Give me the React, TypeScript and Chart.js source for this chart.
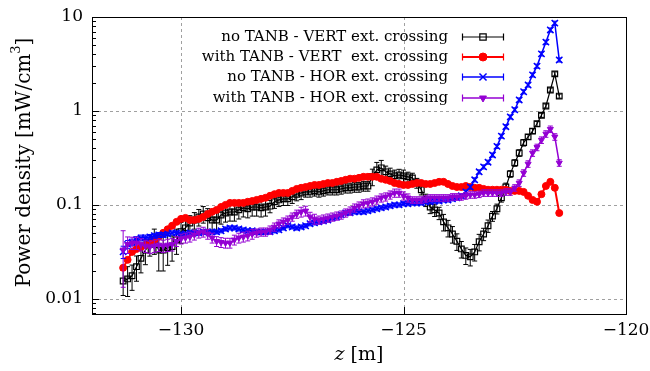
import React, { useEffect, useRef } from "react";
import { Chart, registerables } from "chart.js";

Chart.register(...registerables);

// ---------- data ----------
const zValues = [
  -131.3, -131.2, -131.1, -131.0, -130.9, -130.8, -130.7, -130.6, -130.5, -130.4,
  -130.3, -130.2, -130.1, -130.0, -129.9, -129.8, -129.7, -129.6, -129.5, -129.4,
  -129.3, -129.2, -129.1, -129.0, -128.9, -128.8, -128.7, -128.6, -128.5, -128.4,
  -128.3, -128.2, -128.1, -128.0, -127.9, -127.8, -127.7, -127.6, -127.5, -127.4,
  -127.3, -127.2, -127.1, -127.0, -126.9, -126.8, -126.7, -126.6, -126.5, -126.4,
  -126.3, -126.2, -126.1, -126.0, -125.9, -125.8, -125.7, -125.6, -125.5, -125.4,
  -125.3, -125.2, -125.1, -125.0, -124.9, -124.8, -124.7, -124.6, -124.5, -124.4,
  -124.3, -124.2, -124.1, -124.0, -123.9, -123.8, -123.7, -123.6, -123.5, -123.4,
  -123.3, -123.2, -123.1, -123.0, -122.9, -122.8, -122.7, -122.6, -122.5, -122.4,
  -122.3, -122.2, -122.1, -122.0, -121.9, -121.8, -121.7, -121.6, -121.5,
];

const noTanbVert = [
  0.0155, 0.0163, 0.0176, 0.022, 0.027, 0.033, 0.038, 0.0425, 0.033, 0.033,
  0.035, 0.036, 0.0425, 0.052, 0.057, 0.064, 0.069, 0.0745, 0.08, 0.073,
  0.069, 0.069, 0.078, 0.082, 0.084, 0.084, 0.0885, 0.093, 0.091, 0.095,
  0.095, 0.093, 0.095, 0.097, 0.108, 0.113, 0.116, 0.116, 0.122, 0.13,
  0.134, 0.1375, 0.1375, 0.141, 0.1375, 0.141, 0.145, 0.145, 0.145, 0.148,
  0.152, 0.152, 0.155, 0.155, 0.159, 0.159, 0.2, 0.236, 0.248, 0.225,
  0.214, 0.204, 0.208, 0.204, 0.199, 0.194, 0.171, 0.145, 0.113, 0.095,
  0.0885, 0.082, 0.066, 0.057, 0.049, 0.041, 0.034, 0.029, 0.028, 0.0316,
  0.0405, 0.049, 0.06, 0.076, 0.091, 0.119, 0.155, 0.214, 0.28, 0.357,
  0.46, 0.53, 0.61, 0.73, 0.9, 1.13, 1.67, 2.48, 1.44,
];
const noTanbVertErr = [
  0.3, 0.35, 0.3, 0.3, 0.3, 0.3, 0.25, 0.3, 0.4, 0.4,
  0.35, 0.3, 0.3, 0.25, 0.2, 0.2, 0.2, 0.2, 0.2, 0.25,
  0.25, 0.25, 0.2, 0.2, 0.2, 0.2, 0.2, 0.2, 0.2, 0.2,
  0.2, 0.2, 0.2, 0.15, 0.15, 0.15, 0.15, 0.15, 0.15, 0.15,
  0.15, 0.12, 0.12, 0.12, 0.12, 0.12, 0.12, 0.12, 0.12, 0.12,
  0.12, 0.12, 0.12, 0.12, 0.12, 0.12, 0.2, 0.2, 0.2, 0.15,
  0.15, 0.15, 0.15, 0.15, 0.12, 0.12, 0.12, 0.12, 0.15, 0.15,
  0.15, 0.15, 0.2, 0.2, 0.2, 0.2, 0.2, 0.2, 0.2, 0.2,
  0.2, 0.15, 0.15, 0.12, 0.12, 0.1, 0.1, 0.08, 0.08, 0.08,
  0.08, 0.06, 0.06, 0.06, 0.05, 0.05, 0.05, 0.05, 0.05,
];

const withTanbVert = [
  0.0214, 0.026, 0.0316, 0.034, 0.0357, 0.0375, 0.04, 0.0425, 0.0457, 0.0504,
  0.055, 0.06, 0.066, 0.071, 0.0727, 0.069, 0.069, 0.071, 0.0745, 0.08,
  0.0843, 0.0885, 0.095, 0.1, 0.105, 0.105, 0.105, 0.105, 0.108, 0.11,
  0.113, 0.116, 0.119, 0.125, 0.13, 0.134, 0.134, 0.134, 0.141, 0.148,
  0.152, 0.155, 0.159, 0.163, 0.163, 0.167, 0.171, 0.171, 0.176, 0.18,
  0.185, 0.19, 0.19, 0.194, 0.199, 0.199, 0.199, 0.199, 0.19, 0.185,
  0.18, 0.171, 0.167, 0.163, 0.163, 0.167, 0.171, 0.171, 0.167, 0.167,
  0.171, 0.176, 0.176, 0.167, 0.159, 0.155, 0.155, 0.159, 0.155, 0.152,
  0.152, 0.148, 0.145, 0.145, 0.145, 0.145, 0.145, 0.141, 0.141, 0.141,
  0.1375, 0.125, 0.113, 0.108, 0.13, 0.159, 0.176, 0.152, 0.082,
];
const withTanbVertErr = [
  0.06, 0.06, 0.05, 0.05, 0.05, 0.05, 0.05, 0.05, 0.05, 0.05,
  0.05, 0.05, 0.05, 0.05, 0.05, 0.05, 0.05, 0.05, 0.05, 0.05,
  0.04, 0.04, 0.04, 0.04, 0.04, 0.04, 0.04, 0.04, 0.04, 0.04,
  0.04, 0.04, 0.04, 0.04, 0.04, 0.04, 0.04, 0.04, 0.04, 0.04,
  0.04, 0.04, 0.04, 0.04, 0.04, 0.04, 0.04, 0.04, 0.04, 0.04,
  0.04, 0.04, 0.04, 0.04, 0.04, 0.04, 0.04, 0.04, 0.04, 0.04,
  0.04, 0.04, 0.04, 0.04, 0.04, 0.04, 0.04, 0.04, 0.04, 0.04,
  0.04, 0.04, 0.04, 0.04, 0.04, 0.04, 0.04, 0.04, 0.04, 0.04,
  0.04, 0.04, 0.04, 0.04, 0.04, 0.04, 0.04, 0.04, 0.04, 0.04,
  0.04, 0.04, 0.04, 0.04, 0.04, 0.04, 0.04, 0.04, 0.04,
];

const noTanbHor = [
  0.0316, 0.038, 0.04, 0.0425, 0.0446, 0.0446, 0.0457, 0.047, 0.048, 0.048,
  0.049, 0.0504, 0.0504, 0.049, 0.049, 0.0504, 0.0504, 0.0504, 0.0516, 0.0516,
  0.0516, 0.0516, 0.053, 0.0555, 0.0569, 0.0569, 0.0555, 0.0542, 0.053, 0.053,
  0.0516, 0.0516, 0.0516, 0.0516, 0.053, 0.0542, 0.0569, 0.06, 0.0583, 0.0569,
  0.0583, 0.06, 0.063, 0.0644, 0.066, 0.0675, 0.0692, 0.0727, 0.0745, 0.0783,
  0.0823, 0.0823, 0.0843, 0.0843, 0.0843, 0.0864, 0.0885, 0.091, 0.093, 0.095,
  0.0977, 0.1, 0.1, 0.103, 0.103, 0.105, 0.105, 0.105, 0.108, 0.108,
  0.11, 0.11, 0.113, 0.113, 0.116, 0.119, 0.125, 0.1375, 0.155, 0.185,
  0.225, 0.254, 0.285, 0.34, 0.42, 0.54, 0.68, 0.863, 1.03, 1.31,
  1.6, 1.89, 2.42, 3.0, 4.05, 5.4, 7.28, 8.6, 3.49,
];
const noTanbHorErr = [
  0.15, 0.1, 0.08, 0.08, 0.07, 0.07, 0.06, 0.06, 0.06, 0.06,
  0.05, 0.05, 0.05, 0.05, 0.05, 0.05, 0.05, 0.05, 0.05, 0.05,
  0.05, 0.05, 0.05, 0.05, 0.05, 0.05, 0.05, 0.05, 0.05, 0.05,
  0.05, 0.05, 0.05, 0.05, 0.05, 0.05, 0.05, 0.05, 0.05, 0.05,
  0.05, 0.05, 0.05, 0.05, 0.05, 0.05, 0.05, 0.05, 0.05, 0.05,
  0.05, 0.05, 0.05, 0.05, 0.05, 0.05, 0.05, 0.05, 0.05, 0.05,
  0.05, 0.05, 0.05, 0.05, 0.05, 0.05, 0.05, 0.05, 0.05, 0.05,
  0.05, 0.05, 0.05, 0.05, 0.05, 0.05, 0.05, 0.05, 0.05, 0.05,
  0.05, 0.05, 0.05, 0.05, 0.05, 0.05, 0.05, 0.05, 0.05, 0.05,
  0.05, 0.05, 0.05, 0.05, 0.05, 0.05, 0.05, 0.05, 0.05,
];

const withTanbHor = [
  0.0332, 0.038, 0.0394, 0.0394, 0.038, 0.0366, 0.0357, 0.0366, 0.0375, 0.0366,
  0.0375, 0.038, 0.041, 0.0435, 0.0446, 0.0457, 0.048, 0.0504, 0.0516, 0.049,
  0.0446, 0.041, 0.04, 0.0394, 0.0394, 0.0425, 0.0446, 0.0457, 0.047, 0.049,
  0.0504, 0.0516, 0.0516, 0.0542, 0.0583, 0.063, 0.066, 0.0692, 0.0745, 0.08,
  0.0843, 0.0864, 0.0745, 0.071, 0.0692, 0.071, 0.0727, 0.0745, 0.0764, 0.0783,
  0.0823, 0.0864, 0.093, 0.0977, 0.103, 0.105, 0.108, 0.113, 0.119, 0.122,
  0.128, 0.134, 0.134, 0.125, 0.119, 0.113, 0.113, 0.113, 0.116, 0.119,
  0.119, 0.119, 0.119, 0.119, 0.122, 0.122, 0.122, 0.125, 0.128, 0.128,
  0.13, 0.134, 0.134, 0.134, 0.134, 0.134, 0.1375, 0.1375, 0.152, 0.171,
  0.219, 0.273, 0.357, 0.41, 0.49, 0.57, 0.64, 0.53, 0.28,
];
const withTanbHorErr = [
  0.6, 0.2, 0.15, 0.15, 0.15, 0.15, 0.15, 0.15, 0.15, 0.15,
  0.15, 0.15, 0.12, 0.12, 0.12, 0.12, 0.12, 0.12, 0.12, 0.12,
  0.12, 0.12, 0.12, 0.12, 0.12, 0.12, 0.12, 0.12, 0.12, 0.12,
  0.1, 0.1, 0.1, 0.1, 0.1, 0.1, 0.1, 0.1, 0.1, 0.1,
  0.12, 0.12, 0.12, 0.12, 0.1, 0.1, 0.1, 0.1, 0.1, 0.1,
  0.1, 0.1, 0.1, 0.1, 0.1, 0.1, 0.1, 0.1, 0.1, 0.1,
  0.1, 0.1, 0.1, 0.1, 0.1, 0.08, 0.08, 0.08, 0.08, 0.08,
  0.08, 0.08, 0.08, 0.08, 0.08, 0.08, 0.08, 0.08, 0.08, 0.08,
  0.08, 0.08, 0.08, 0.08, 0.08, 0.08, 0.08, 0.08, 0.08, 0.08,
  0.08, 0.08, 0.08, 0.08, 0.08, 0.08, 0.08, 0.08, 0.08,
];

const seriesLabels = [
  "no TANB - VERT ext. crossing",
  "with TANB - VERT  ext. crossing",
  "no TANB - HOR ext. crossing",
  "with TANB - HOR ext. crossing",
];

const xTickValues = [-130, -125, -120];
const xTickLabels = ["\u2212130", "\u2212125", "\u2212120"];
const yTickValues = [0.01, 0.1, 1, 10];
const yTickLabels = ["0.01", "0.1", "1", "10"];
const yMinorTicks = [
  0.007, 0.008, 0.009,
  0.02, 0.03, 0.04, 0.05, 0.06, 0.07, 0.08, 0.09,
  0.2, 0.3, 0.4, 0.5, 0.6, 0.7, 0.8, 0.9,
  2, 3, 4, 5, 6, 7, 8, 9,
];

// ---------- styles ----------
const FONT = "'DejaVu Serif', serif";

type Series = {
  label: string;
  values: number[];
  err: number[];
  color: string;
  style: string;
  radius: number;
  fill: string;
  lineWidth: number;
  pointLW: number;
};

const series: Series[] = [
  { label: seriesLabels[0], values: noTanbVert, err: noTanbVertErr, color: "#000000", style: "rect", radius: 4, fill: "rgba(0,0,0,0)", lineWidth: 1.2, pointLW: 1.2 },
  { label: seriesLabels[1], values: withTanbVert, err: withTanbVertErr, color: "#ff0000", style: "circle", radius: 3.5, fill: "#ff0000", lineWidth: 2, pointLW: 1 },
  { label: seriesLabels[2], values: noTanbHor, err: noTanbHorErr, color: "#0000ff", style: "crossRot", radius: 4.5, fill: "#0000ff", lineWidth: 1.5, pointLW: 1.5 },
  { label: seriesLabels[3], values: withTanbHor, err: withTanbHorErr, color: "#9400d3", style: "triangleDown", radius: 3.5, fill: "#9400d3", lineWidth: 1.5, pointLW: 1 },
];

function drawMarker(ctx: CanvasRenderingContext2D, s: Series, x: number, y: number, r: number) {
  ctx.save();
  ctx.strokeStyle = s.color;
  ctx.fillStyle = s.fill;
  ctx.lineWidth = s.pointLW;
  ctx.beginPath();
  if (s.style === "rect") {
    const h = r * Math.SQRT1_2;
    ctx.rect(x - h, y - h, 2 * h, 2 * h);
    ctx.fill();
    ctx.stroke();
  } else if (s.style === "circle") {
    ctx.arc(x, y, r, 0, Math.PI * 2);
    ctx.fill();
    ctx.stroke();
  } else if (s.style === "crossRot") {
    const h = r * Math.SQRT1_2;
    ctx.moveTo(x - h, y - h);
    ctx.lineTo(x + h, y + h);
    ctx.moveTo(x + h, y - h);
    ctx.lineTo(x - h, y + h);
    ctx.stroke();
  } else {
    for (let k = 0; k < 3; k++) {
      const a = Math.PI + (k * 2 * Math.PI) / 3;
      const px = x + Math.sin(a) * r;
      const py = y - Math.cos(a) * r;
      if (k === 0) ctx.moveTo(px, py);
      else ctx.lineTo(px, py);
    }
    ctx.closePath();
    ctx.fill();
    ctx.stroke();
  }
  ctx.restore();
}

export default function App() {
  const ref = useRef<HTMLCanvasElement>(null);

  useEffect(() => {
    const canvas = ref.current;
    if (!canvas) return;

    const overlay = {
      id: "gnuplotLook",
      beforeDatasetsDraw(chart: any) {
        const { ctx, chartArea: a, scales } = chart;
        ctx.save();
        ctx.strokeStyle = "#a0a0a0";
        ctx.lineWidth = 1;
        ctx.setLineDash([3, 3]);
        for (const v of yTickValues) {
          const y = Math.round(scales.y.getPixelForValue(v)) + 0.5;
          if (y <= a.top + 1 || y >= a.bottom - 1) continue;
          ctx.beginPath();
          ctx.moveTo(a.left, y);
          ctx.lineTo(a.right, y);
          ctx.stroke();
        }
        for (const v of xTickValues) {
          const x = Math.round(scales.x.getPixelForValue(v)) + 0.5;
          if (x <= a.left + 1 || x >= a.right - 1) continue;
          ctx.beginPath();
          ctx.moveTo(x, a.top);
          ctx.lineTo(x, a.bottom);
          ctx.stroke();
        }
        ctx.restore();
      },
      beforeDatasetDraw(chart: any, args: any) {
        const s = series[args.index];
        if (!s) return;
        const { ctx, chartArea: a, scales } = chart;
        ctx.save();
        ctx.beginPath();
        ctx.rect(a.left, a.top, a.right - a.left, a.bottom - a.top);
        ctx.clip();
        ctx.strokeStyle = s.color;
        ctx.lineWidth = 1;
        ctx.beginPath();
        for (let j = 0; j < zValues.length; j++) {
          const v = s.values[j];
          const e = s.err[j];
          const x = scales.x.getPixelForValue(zValues[j]);
          const yt = scales.y.getPixelForValue(v * (1 + e));
          const yb = scales.y.getPixelForValue(v * (1 - e));
          ctx.moveTo(x, yt);
          ctx.lineTo(x, yb);
          ctx.moveTo(x - 2.5, yt);
          ctx.lineTo(x + 2.5, yt);
          ctx.moveTo(x - 2.5, yb);
          ctx.lineTo(x + 2.5, yb);
        }
        ctx.stroke();
        ctx.restore();
      },
      afterDraw(chart: any) {
        const { ctx, chartArea: a, scales } = chart;
        ctx.save();
        // border
        ctx.strokeStyle = "#000";
        ctx.lineWidth = 1;
        ctx.setLineDash([]);
        ctx.strokeRect(Math.round(a.left) + 0.5, Math.round(a.top) + 0.5, Math.round(a.right - a.left), Math.round(a.bottom - a.top));
        // ticks
        ctx.beginPath();
        for (const v of yTickValues) {
          const y = Math.round(scales.y.getPixelForValue(v)) + 0.5;
          ctx.moveTo(a.left, y);
          ctx.lineTo(a.left + 7, y);
        }
        for (const v of yMinorTicks) {
          const y = Math.round(scales.y.getPixelForValue(v)) + 0.5;
          if (y < a.top || y > a.bottom) continue;
          ctx.moveTo(a.left, y);
          ctx.lineTo(a.left + 4, y);
        }
        for (const v of xTickValues) {
          const x = Math.round(scales.x.getPixelForValue(v)) + 0.5;
          ctx.moveTo(x, a.bottom);
          ctx.lineTo(x, a.bottom - 7);
        }
        ctx.stroke();

        // tick labels
        ctx.fillStyle = "#000";
        ctx.font = `17px ${FONT}`;
        ctx.textAlign = "right";
        ctx.textBaseline = "middle";
        yTickValues.forEach((v, i) => {
          ctx.fillText(yTickLabels[i], a.left - 9, scales.y.getPixelForValue(v));
        });
        ctx.textAlign = "center";
        ctx.textBaseline = "top";
        xTickValues.forEach((v, i) => {
          ctx.fillText(xTickLabels[i], scales.x.getPixelForValue(v), a.bottom + 8);
        });

        // x title
        ctx.textBaseline = "middle";
        ctx.textAlign = "left";
        const xt1 = "z";
        const xt2 = " [m]";
        ctx.font = `italic 19px ${FONT}`;
        const w1 = ctx.measureText(xt1).width;
        ctx.font = `19px ${FONT}`;
        const w2 = ctx.measureText(xt2).width;
        const cx = (a.left + a.right) / 2;
        const sx = cx - (w1 + w2) / 2;
        ctx.font = `italic 19px ${FONT}`;
        ctx.fillText(xt1, sx, 355);
        ctx.font = `19px ${FONT}`;
        ctx.fillText(xt2, sx + w1, 355);

        // y title
        ctx.save();
        ctx.translate(25, (a.top + a.bottom) / 2 - 3);
        ctx.rotate(-Math.PI / 2);
        const p1 = "Power density [mW/cm";
        const p2 = "3";
        const p3 = "]";
        ctx.font = `20px ${FONT}`;
        const q1 = ctx.measureText(p1).width;
        const q3 = ctx.measureText(p3).width;
        ctx.font = `13px ${FONT}`;
        const q2 = ctx.measureText(p2).width;
        const tx = -(q1 + q2 + q3) / 2;
        ctx.font = `20px ${FONT}`;
        ctx.fillText(p1, tx, 0);
        ctx.font = `13px ${FONT}`;
        ctx.fillText(p2, tx + q1, -8);
        ctx.font = `20px ${FONT}`;
        ctx.fillText(p3, tx + q1 + q2, 0);
        ctx.restore();

        // legend
        const rowsY = [37, 57, 77, 98];
        const textRight = 448;
        const l0 = 462;
        const l1 = 504;
        const lm = 483;
        ctx.font = `15px ${FONT}`;
        ctx.textAlign = "right";
        ctx.textBaseline = "middle";
        series.forEach((s, i) => {
          const y = rowsY[i];
          ctx.fillStyle = "#000";
          ctx.fillText(s.label, textRight, y);
          ctx.strokeStyle = s.color;
          ctx.lineWidth = s.lineWidth;
          ctx.beginPath();
          ctx.moveTo(l0, y);
          ctx.lineTo(l1, y);
          ctx.stroke();
          ctx.lineWidth = 1.2;
          ctx.beginPath();
          ctx.moveTo(l0 + 0.5, y - 3.5);
          ctx.lineTo(l0 + 0.5, y + 3.5);
          ctx.moveTo(l1 - 0.5, y - 3.5);
          ctx.lineTo(l1 - 0.5, y + 3.5);
          ctx.stroke();
          drawMarker(ctx, s, lm, y, s.radius + 0.5);
        });
        ctx.restore();
      },
    };

    const chart = new Chart(canvas, {
      type: "line",
      data: {
        datasets: series.map((s, i) => ({
          label: s.label,
          data: zValues.map((z, j) => ({ x: z, y: s.values[j] })),
          borderColor: s.color,
          backgroundColor: s.fill,
          borderWidth: s.lineWidth,
          pointStyle: s.style === "triangleDown" ? "triangle" : s.style,
          pointRotation: s.style === "triangleDown" ? 180 : 0,
          pointRadius: s.radius,
          pointBorderWidth: s.pointLW,
          pointBorderColor: s.color,
          pointBackgroundColor: s.fill,
          tension: 0,
          fill: false,
          order: 4 - i,
        })),
      },
      options: {
        animation: false,
        responsive: false,
        events: [],
        layout: { padding: { top: 17, right: 24, left: 0, bottom: 0 }, autoPadding: false },
        plugins: { legend: { display: false }, tooltip: { enabled: false } },
        scales: {
          x: {
            type: "linear",
            min: -132,
            max: -120,
            ticks: { display: false },
            grid: { display: false },
            border: { display: false },
            afterFit: (s: any) => {
              s.height = 57;
            },
          },
          y: {
            type: "logarithmic",
            min: 0.0069,
            max: 10,
            ticks: { display: false },
            grid: { display: false },
            border: { display: false },
            afterFit: (s: any) => {
              s.width = 92;
            },
          },
        },
      } as any,
      plugins: [overlay as any],
    });

    return () => chart.destroy();
  }, []);

  return (
    <div style={{ position: "fixed", left: 0, top: 0, width: 650, height: 371, background: "#fff" }}>
      <canvas ref={ref} width={650} height={371} />
    </div>
  );
}
